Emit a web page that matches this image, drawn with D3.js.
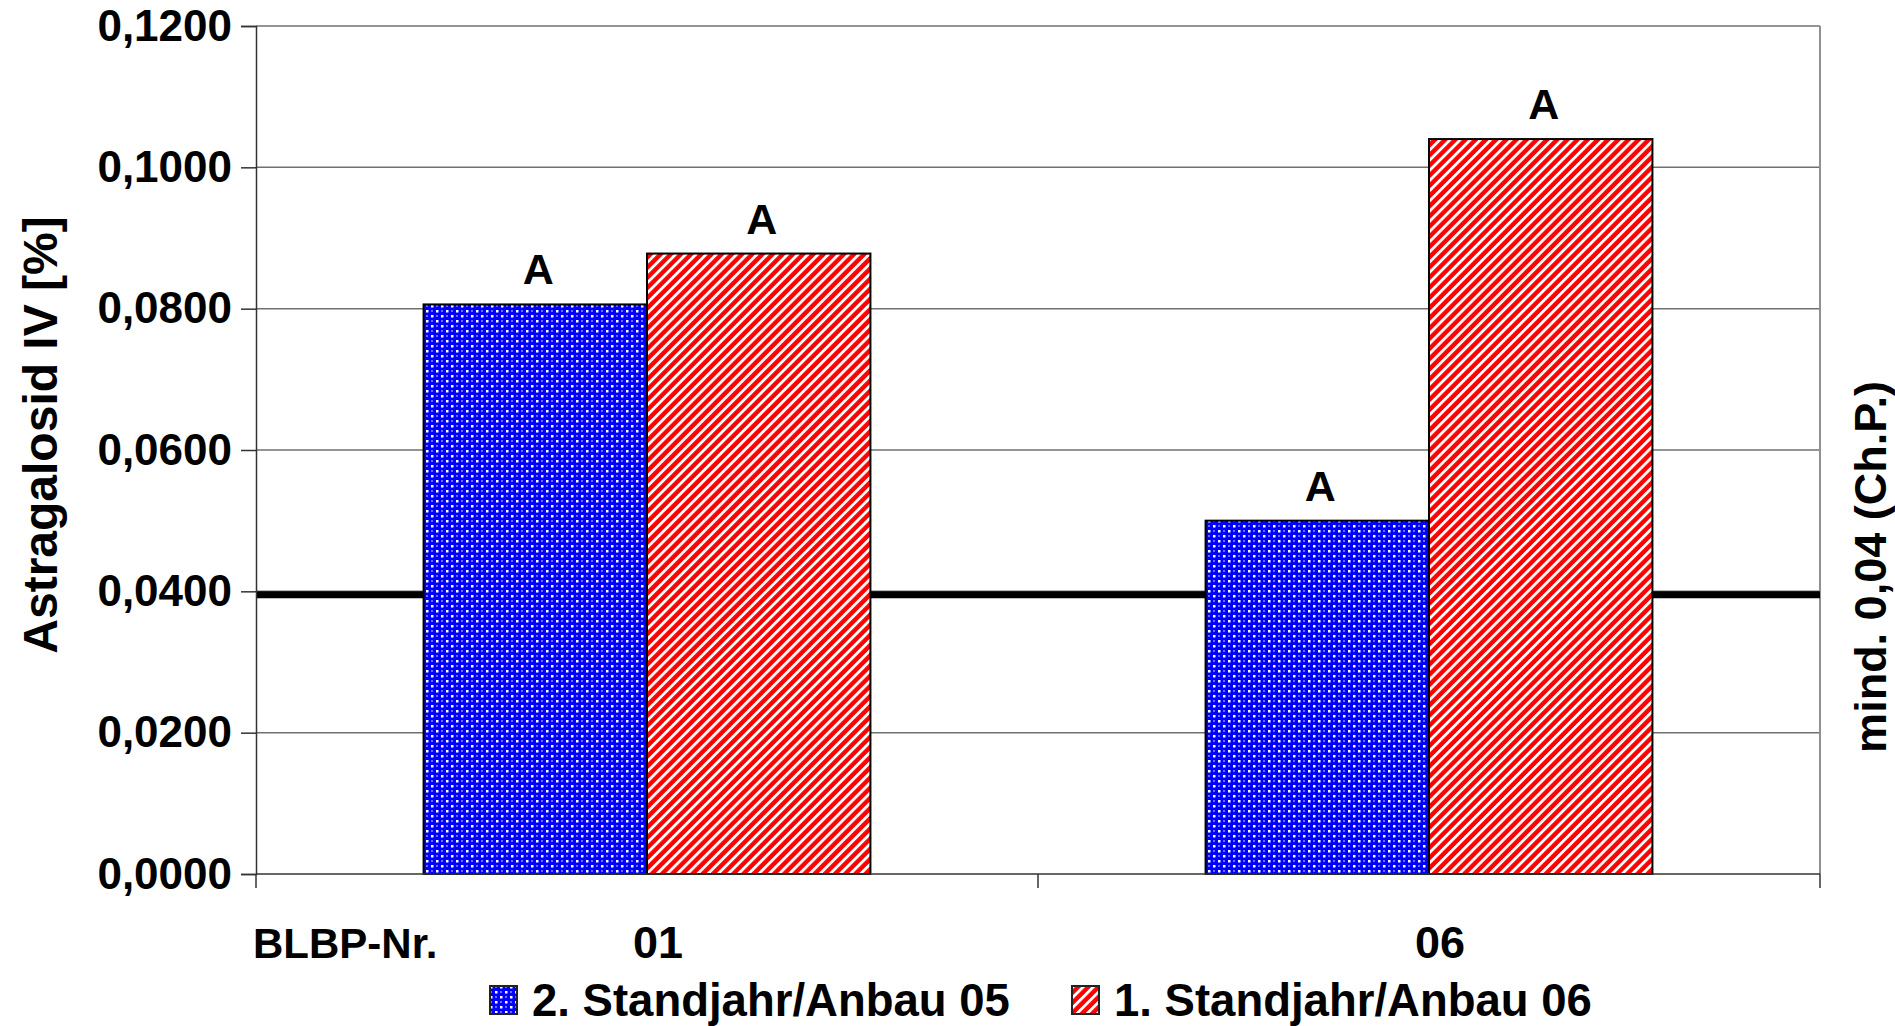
<!DOCTYPE html>
<html>

<head>
  <meta charset="utf-8">
  <title>Astragalosid IV</title>
  <script src="https://cdn.jsdelivr.net/npm/d3@7"></script>
  <style>
    body { margin: 0; background: #fff; }
    text { font-family: "Liberation Sans", Arial, sans-serif; font-weight: bold; fill: #000; }
  </style>
</head>

<body>
  <script type="text/javascript">
    // data
    var categories = ["01", "06"];
    var seriesNames = ["2. Standjahr/Anbau 05", "1. Standjahr/Anbau 06"];
    var series05 = [0.0806, 0.0500];
    var series06 = [0.0878, 0.1040];
    var letters05 = ["A", "A"];
    var letters06 = ["A", "A"];
    var yTicks = [0, 0.02, 0.04, 0.06, 0.08, 0.10, 0.12];
    var refValue = 0.0395;
    var yTitle = "Astragalosid IV [%]";
    var refTitle = "mind. 0,04 (Ch.P.)";
    var xTitle = "BLBP-Nr.";

    //Width and height
    var w = 1895;
    var h = 1026;
    var plotL = 256, plotR = 1820, plotT = 26, plotB = 874;

    var svg = d3.select("body")
      .append("svg")
      .attr("width", w)
      .attr("height", h);

    // patterns
    var defs = svg.append("defs");
    var dots = defs.append("pattern")
      .attr("id", "dots")
      .attr("patternUnits", "userSpaceOnUse")
      .attr("width", 10)
      .attr("height", 10);
    dots.append("rect").attr("width", 10).attr("height", 10).attr("fill", "#0000ff");
    dots.append("rect").attr("x", 0).attr("y", 0).attr("width", 2.5).attr("height", 2.5).attr("fill", "#fff");
    dots.append("rect").attr("x", 5).attr("y", 5).attr("width", 2.5).attr("height", 2.5).attr("fill", "#fff");
    dots.append("rect").attr("x", 5).attr("y", 0).attr("width", 2).attr("height", 2).attr("fill", "#6a6aff");
    dots.append("rect").attr("x", 0).attr("y", 5).attr("width", 2).attr("height", 2).attr("fill", "#6a6aff");

    var stripes = defs.append("pattern")
      .attr("id", "stripes")
      .attr("patternUnits", "userSpaceOnUse")
      .attr("width", 7.2)
      .attr("height", 10)
      .attr("patternTransform", "rotate(45)");
    stripes.append("rect").attr("width", 7.2).attr("height", 10).attr("fill", "#ff0000");
    stripes.append("rect").attr("width", 2.8).attr("height", 10).attr("fill", "#fff");

    var fills = ["url(#dots)", "url(#stripes)"];

    //Scales
    var x0 = d3.scaleBand()
      .domain(categories)
      .range([plotL, plotR])
      .paddingInner(0)
      .paddingOuter(0);

    var x1 = d3.scaleBand()
      .domain([0, 1])
      .range([0, x0.bandwidth()])
      .paddingInner(0)
      .paddingOuter(0.75);

    var y = d3.scaleLinear()
      .domain([0, 0.12])
      .range([plotB, plotT]);

    // gridlines
    svg.append("g")
      .selectAll("line")
      .data(yTicks.slice(1))
      .enter()
      .append("line")
      .attr("x1", plotL)
      .attr("x2", plotR)
      .attr("y1", function(d) { return y(d); })
      .attr("y2", function(d) { return y(d); })
      .attr("stroke", "#707070")
      .attr("stroke-width", 1.5);

    // right frame
    svg.append("line")
      .attr("x1", plotR).attr("x2", plotR)
      .attr("y1", plotT).attr("y2", plotB)
      .attr("stroke", "#909090")
      .attr("stroke-width", 2);

    // reference line
    svg.append("line")
      .attr("x1", plotL)
      .attr("x2", plotR)
      .attr("y1", y(refValue))
      .attr("y2", y(refValue))
      .attr("stroke", "#000")
      .attr("stroke-width", 7);

    // bars
    var rows = categories.map(function(c, i) {
      return { cat: c, values: [series05[i], series06[i]], letters: [letters05[i], letters06[i]] };
    });

    var groups = svg.append("g")
      .selectAll("g")
      .data(rows)
      .enter()
      .append("g")
      .attr("transform", function(d) { return "translate(" + x0(d.cat) + ",0)"; });

    groups.selectAll("rect")
      .data(function(d) { return d.values.map(function(v, k) { return { k: k, v: v }; }); })
      .enter()
      .append("rect")
      .attr("x", function(d) { return x1(d.k); })
      .attr("y", function(d) { return y(d.v); })
      .attr("width", x1.bandwidth())
      .attr("height", function(d) { return plotB - y(d.v); })
      .attr("fill", function(d) { return fills[d.k]; })
      .attr("stroke", "#000")
      .attr("stroke-width", 2);

    groups.selectAll("text")
      .data(function(d) { return d.values.map(function(v, k) { return { k: k, v: v, t: d.letters[k] }; }); })
      .enter()
      .append("text")
      .attr("x", function(d) { return x1(d.k) + x1.bandwidth() / 2 + 3; })
      .attr("y", function(d) { return y(d.v) - 20; })
      .attr("text-anchor", "middle")
      .attr("font-size", 43)
      .text(function(d) { return d.t; });

    // y axis
    var yAxis = d3.axisLeft(y)
      .tickValues(yTicks)
      .tickSize(15)
      .tickPadding(9)
      .tickFormat(function(d) { return d3.format(".4f")(d).replace(".", ","); });

    var yg = svg.append("g")
      .attr("transform", "translate(" + plotL + ",0)")
      .call(yAxis);
    yg.selectAll("path, line").attr("stroke", "#333").attr("stroke-width", 1.5);
    yg.selectAll("text")
      .attr("font-size", 44)
      .attr("font-family", "Liberation Sans, Arial, sans-serif")
      .attr("font-weight", "bold")
      .attr("fill", "#000");

    // x axis line and ticks
    svg.append("line")
      .attr("x1", plotL).attr("x2", plotR)
      .attr("y1", plotB).attr("y2", plotB)
      .attr("stroke", "#333").attr("stroke-width", 1.5);
    svg.append("g")
      .selectAll("line")
      .data(categories.concat(["end"]))
      .enter()
      .append("line")
      .attr("x1", function(d, i) { return plotL + i * x0.step(); })
      .attr("x2", function(d, i) { return plotL + i * x0.step(); })
      .attr("y1", plotB)
      .attr("y2", plotB + 14)
      .attr("stroke", "#333")
      .attr("stroke-width", 1.5);

    // category labels
    svg.append("g")
      .selectAll("text")
      .data(categories)
      .enter()
      .append("text")
      .attr("x", function(d) { return x0(d) + x0.bandwidth() / 2 + 11; })
      .attr("y", 958)
      .attr("text-anchor", "middle")
      .attr("font-size", 45)
      .text(function(d) { return d; });

    svg.append("text")
      .attr("x", 253)
      .attr("y", 958)
      .attr("font-size", 42)
      .text(xTitle);

    // axis titles
    svg.append("text")
      .attr("transform", "translate(57,435) rotate(-90)")
      .attr("text-anchor", "middle")
      .attr("font-size", 48)
      .text(yTitle);

    svg.append("text")
      .attr("transform", "translate(1886,567) rotate(-90)")
      .attr("text-anchor", "middle")
      .attr("font-size", 45)
      .text(refTitle);

    // legend
    var legendX = [490, 1072];
    var legend = svg.append("g")
      .selectAll("g")
      .data(seriesNames)
      .enter()
      .append("g")
      .attr("transform", function(d, i) { return "translate(" + legendX[i] + ",986)"; });

    legend.append("rect")
      .attr("width", 27)
      .attr("height", 28)
      .attr("fill", function(d, i) { return fills[i]; })
      .attr("stroke", "#222")
      .attr("stroke-width", 2);

    legend.append("text")
      .attr("x", 42)
      .attr("y", 30)
      .attr("font-size", 45.5)
      .text(function(d) { return d; });
  </script>

</body>

</html>
